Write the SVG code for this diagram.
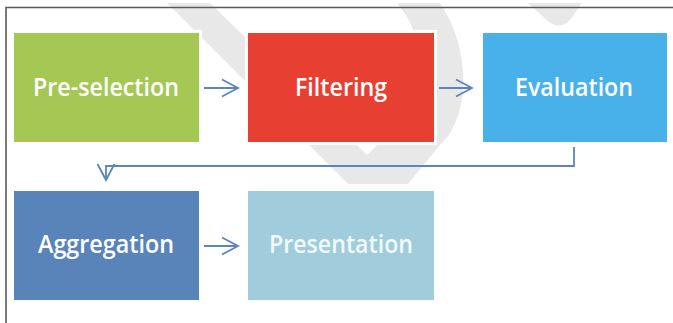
<svg xmlns="http://www.w3.org/2000/svg" width="673" height="323" viewBox="0 0 673 323">
  <style>
    .wm { fill: #e8e8e8; }
    .box { stroke: #ffffff; stroke-width: 3; }
    .lbl { font-family: "Open Sans", "Liberation Sans", sans-serif; font-size: 26px; font-weight: 600; fill: #ffffff; text-anchor: middle; }
    .conn { fill: none; stroke: #5b84c2; stroke-width: 1.8; }
  </style>
  <defs>
    <marker id="chev" markerUnits="userSpaceOnUse" markerWidth="22" markerHeight="22" refX="18" refY="10" orient="auto" viewBox="0 0 22 22">
      <path d="M2,1.5 L18,10 L2,18.5" fill="none" stroke="#5b84c2" stroke-width="1.8"/>
    </marker>
  </defs>
  <rect x="0" y="0" width="673" height="323" fill="#ffffff"/>
  <g id="watermark">
    <path class="wm" d="M167,3 L210,3 L367,155 L377,145 C432,92 428,40 397,3 L440,3 C472,50 470,118 440,145 L408,184 L348,184 Z"/>
    <path class="wm" d="M528,3 L582,3 L570,20 Q560,30 549,22 Z"/>
  </g>
  <path id="frame" d="M6,323 L6,7.5 L673,7.5" fill="none" stroke="#5a5a5a" stroke-width="1.6"/>
  <g id="connectors">
    <path class="conn" d="M204,88 L238,88" marker-end="url(#chev)"/>
    <path class="conn" d="M439,88 L472,88" marker-end="url(#chev)"/>
    <path class="conn" d="M574,147 L574,166 L106,166 L106,180" marker-end="url(#chev)"/>
    <path class="conn" d="M204,246 L238,246" marker-end="url(#chev)"/>
  </g>
  <g id="pre-selection">
    <rect class="box" x="12.5" y="31.5" width="188" height="112" fill="#a5c855"/>
    <text class="lbl" x="106" y="96" textLength="146" lengthAdjust="spacingAndGlyphs">Pre-selection</text>
  </g>
  <g id="filtering">
    <rect class="box" x="246.5" y="31.5" width="189" height="112" fill="#e83f33"/>
    <text class="lbl" x="341" y="96" textLength="92" lengthAdjust="spacingAndGlyphs">Filtering</text>
  </g>
  <g id="evaluation">
    <rect class="box" x="481.5" y="31.5" width="187" height="112" fill="#48b1e9"/>
    <text class="lbl" x="574" y="96" textLength="118" lengthAdjust="spacingAndGlyphs">Evaluation</text>
  </g>
  <g id="aggregation">
    <rect class="box" x="12.5" y="189.5" width="188" height="112" fill="#5884ba"/>
    <text class="lbl" x="106" y="253" textLength="136" lengthAdjust="spacingAndGlyphs">Aggregation</text>
  </g>
  <g id="presentation">
    <rect class="box" x="246.5" y="189.5" width="189" height="112" fill="#a0ccdb"/>
    <text class="lbl" x="341" y="253" textLength="144" lengthAdjust="spacingAndGlyphs" style="fill:#f2f9fb">Presentation</text>
  </g>
</svg>
